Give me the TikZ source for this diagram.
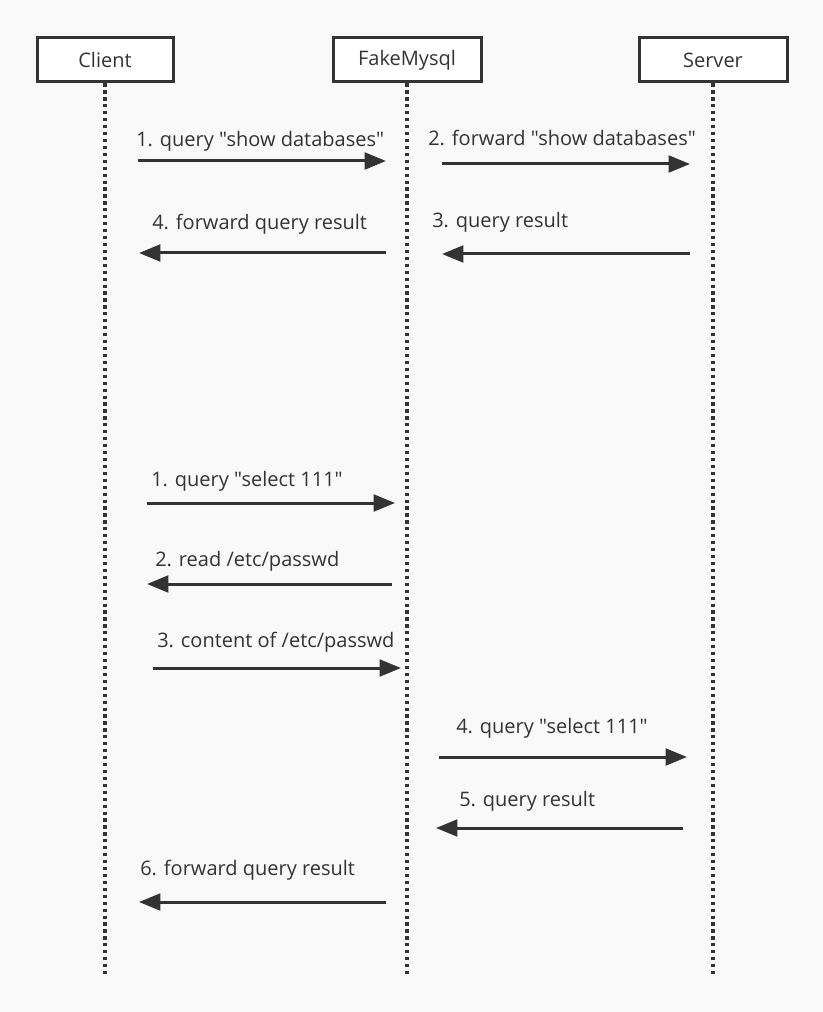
\documentclass[tikz,border=0pt]{standalone}
\usepackage{fontspec}
\newfontfamily\diagfont{Open Sans}
\usetikzlibrary{
	arrows.meta,
	positioning
}
\definecolor{ink}{HTML}{333333}
\definecolor{paper}{HTML}{F9F9F9}

\begin{document}
\begin{tikzpicture}[
	x=0.75pt, y=-0.75pt,
	actor/.style={
		draw=ink, line width=2.25pt, fill=white,
		minimum height=33pt, inner sep=0pt,
		font=\diagfont\fontsize{15}{18}\selectfont, text=ink
	},
	lifeline/.style={ink, line width=2.4pt, dash pattern=on 2.4pt off 2.8pt},
	msg/.style={-{Triangle[length=16pt,width=12.5pt]}, ink, line width=2.25pt},
	msglabel/.style={anchor=base west, inner sep=0pt, font=\diagfont\fontsize{15}{18}\selectfont, text=ink}
	]
	
	% Canvas
	\fill[paper] (0,0) rectangle (823,1012);
	\useasboundingbox (0,0) rectangle (823,1012);
	
	% Participants
	\node[actor, minimum width=102pt] (client) at (105,60) {Client};
	\node[actor, minimum width=111pt] (fake)   at (407,60) {FakeMysql};
	\node[actor, minimum width=111pt] (server) at (713,60) {Server};
	
	% Lifelines
	\coordinate (client-end) at (105,975);
	\coordinate (fake-end)   at (407,975);
	\coordinate (server-end) at (713,975);
	\draw[lifeline] (client) -- (client-end);
	\draw[lifeline] (fake) -- (fake-end);
	\draw[lifeline] (server) -- (server-end);
	
	% --- First exchange: normal proxying ---
	
	% Client to FakeMysql
	\coordinate (a1s) at (138,161);
	\coordinate (a1e) at (386,161);
	\draw[msg] (a1s) -- (a1e);
	\node[msglabel] (a1) at (136,147) {1. query "show databases"};
	
	% FakeMysql to Server
	\coordinate (a2s) at (442,164);
	\coordinate (a2e) at (690,164);
	\draw[msg] (a2s) -- (a2e);
	\node[msglabel] (a2) at (428,146) {2. forward "show databases"};
	
	% Server back to FakeMysql
	\coordinate (a3s) at (690,254);
	\coordinate (a3e) at (442,254);
	\draw[msg] (a3s) -- (a3e);
	\node[msglabel] (a3) at (432,228) {3. query result};
	
	% FakeMysql back to Client
	\coordinate (a4s) at (386,253);
	\coordinate (a4e) at (139,253);
	\draw[msg] (a4s) -- (a4e);
	\node[msglabel] (a4) at (152,230) {4. forward query result};
	
	% --- Second exchange: file read ---
	
	\coordinate (b1s) at (147,503);
	\coordinate (b1e) at (395,503);
	\draw[msg] (b1s) -- (b1e);
	\node[msglabel] (b1) at (151,486) {1. query "select 111"};
	
	\coordinate (b2s) at (392,584);
	\coordinate (b2e) at (147,584);
	\draw[msg] (b2s) -- (b2e);
	\node[msglabel] (b2) at (155,566) {2. read /etc/passwd};
	
	\coordinate (b3s) at (153,668);
	\coordinate (b3e) at (401,668);
	\draw[msg] (b3s) -- (b3e);
	\node[msglabel] (b3) at (157,647) {3. content of /etc/passwd};
	
	\coordinate (b4s) at (439,757);
	\coordinate (b4e) at (687,757);
	\draw[msg] (b4s) -- (b4e);
	\node[msglabel] (b4) at (456,733) {4. query "select 111"};
	
	\coordinate (b5s) at (683,828);
	\coordinate (b5e) at (436,828);
	\draw[msg] (b5s) -- (b5e);
	\node[msglabel] (b5) at (459,806) {5. query result};
	
	\coordinate (b6s) at (386,902);
	\coordinate (b6e) at (139,902);
	\draw[msg] (b6s) -- (b6e);
	\node[msglabel] (b6) at (140,875) {6. forward query result};
\end{tikzpicture}
\end{document}
